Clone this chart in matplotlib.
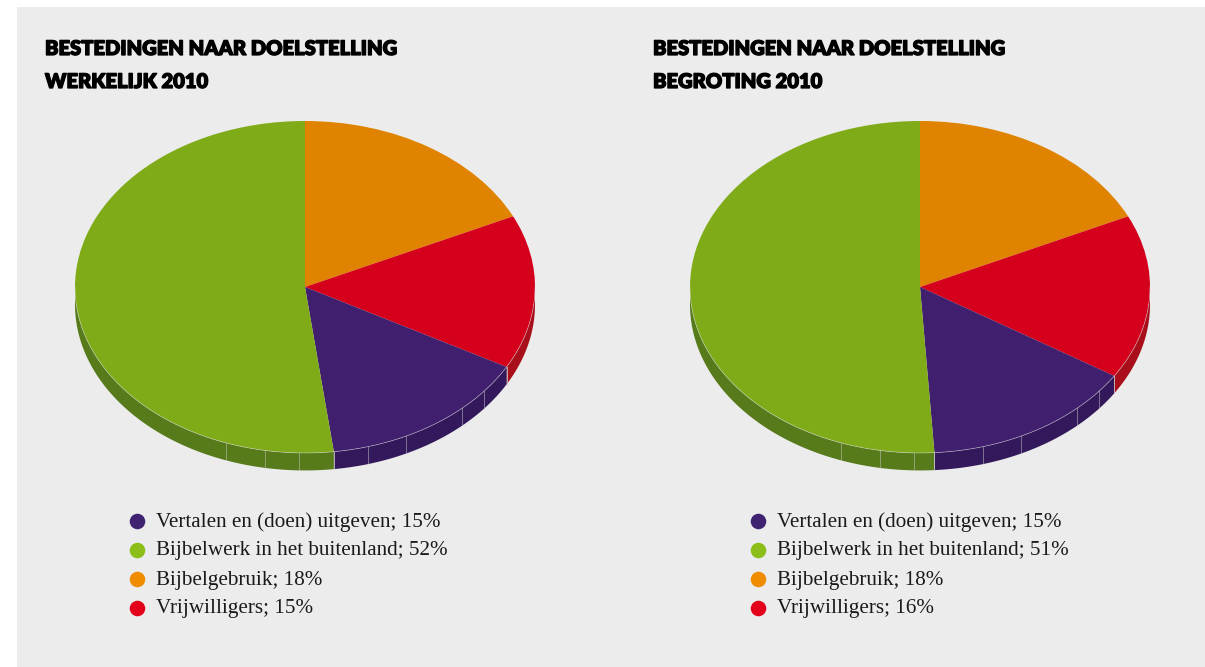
import numpy as np
import matplotlib.pyplot as plt
import matplotlib.patheffects as pe
from matplotlib.patches import Rectangle

# data
names = ['Vertalen en (doen) uitgeven', 'Bijbelwerk in het buitenland',
         'Bijbelgebruik', 'Vrijwilligers']
werkelijk = [15, 52, 18, 15]
begroting = [15, 51, 18, 16]
titles = ['BESTEDINGEN NAAR DOELSTELLING\nWERKELIJK 2010',
          'BESTEDINGEN NAAR DOELSTELLING\nBEGROTING 2010']

# pie goes clockwise from 12 o'clock: orange, red, purple, green
pie_order = [2, 3, 0, 1]

top_colors = ['#3f1f6e', '#80ab19', '#e08300', '#d5001c']
side_colors = ['#33185c', '#577a1a', '#b06000', '#a80f1b']
legend_colors = ['#3f2270', '#8cbe1a', '#f08c00', '#e2001a']

W, H = 1205, 667
fig = plt.figure(figsize=(W / 100, H / 100), dpi=100)
fig.patch.set_facecolor('white')
fig.patches.append(Rectangle((17 / W, 0), 1 - 17 / W, 1 - 7 / H,
                             transform=fig.transFigure, facecolor='#ebeceb',
                             edgecolor='none', zorder=-10))

rx, ry = 230, 166
depth = 0.105
xl = (-1.1, 1.1)
yl = (-1.25, 1.1)
rim_lines = [250, 260, 268.5, 286, 296, 313, 321]


def draw_pie(cx, cy, values):
    left = (cx + xl[0] * rx) / W
    width = (xl[1] - xl[0]) * rx / W
    bottom = 1 - (cy - yl[0] * ry) / H
    height = (yl[1] - yl[0]) * ry / H
    ax = fig.add_axes([left, bottom, width, height], zorder=1)
    vals = [values[i] for i in pie_order]
    cols = [top_colors[i] for i in pie_order]
    ax.pie(vals, colors=cols, startangle=90, counterclock=False,
           wedgeprops=dict(linewidth=0))
    ax.set_aspect('auto')
    ax.set_xlim(*xl)
    ax.set_ylim(*yl)
    ax.axis('off')

    # rim (front side of the disc)
    frac = np.cumsum([0] + vals) / sum(vals)
    for k, i in enumerate(pie_order):
        a2 = 90 - 360 * frac[k]
        a1 = 90 - 360 * frac[k + 1]
        lo, hi = max(a1, -180), min(a2, 0)
        if lo >= hi:
            continue
        t = np.radians(np.linspace(lo, hi, 120))
        xs = np.concatenate([np.cos(t), np.cos(t[::-1])])
        ys = np.concatenate([np.sin(t), np.sin(t[::-1]) - depth])
        ax.fill(xs, ys, color=side_colors[i], linewidth=0, zorder=0)
        for a in (lo, hi):
            if -179 < a < -1:
                r = np.radians(a)
                ax.plot([np.cos(r)] * 2, [np.sin(r), np.sin(r) - depth],
                        color='#c8c8c8', lw=0.6, alpha=0.7, zorder=1)
    for a in rim_lines:
        r = np.radians(a)
        ax.plot([np.cos(r)] * 2, [np.sin(r), np.sin(r) - depth],
                color='#c8c8c8', lw=0.6, alpha=0.6, zorder=1)
    t = np.radians(np.linspace(-180, 0, 300))
    ax.plot(np.cos(t), np.sin(t), color='#dcdcdc', lw=0.5, alpha=0.6, zorder=3)


draw_pie(305, 287, werkelijk)
draw_pie(920, 287, begroting)

# overlay in pixel coordinates for titles and legends
ov = fig.add_axes([0, 0, 1, 1], zorder=5)
ov.set_xlim(0, W)
ov.set_ylim(H, 0)
ov.axis('off')

heavy = [pe.withStroke(linewidth=0.9, foreground='black')]
for x0, title in zip([45, 653], titles):
    for j, line in enumerate(title.split('\n')):
        ov.text(x0, 55 + 33 * j, line, fontsize=14.5, fontweight='heavy',
                family='Lato', color='black', va='baseline', ha='left',
                path_effects=heavy)

for mx, values in zip([137, 758], [werkelijk, begroting]):
    for j, (name, v) in enumerate(zip(names, values)):
        y = 521 + 29 * j
        ov.scatter(mx, y, s=125, color=legend_colors[j], linewidths=0)
        ov.text(mx + 19, y + 1, f'{name}; {v}%', fontsize=15.2,
                family='Liberation Serif', color='#1a1a1a', va='center',
                ha='left')

fig.savefig('out.png', dpi=100, facecolor='white')
